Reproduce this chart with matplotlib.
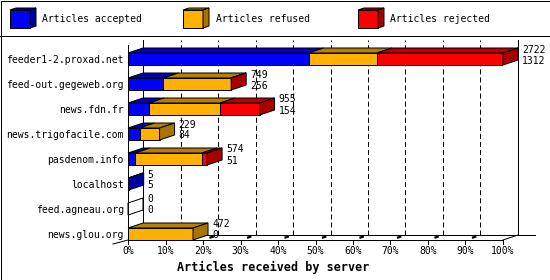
import numpy as np
import matplotlib
matplotlib.use("Agg")
import matplotlib.pyplot as plt
import matplotlib.transforms as mtransforms
from matplotlib.patches import Polygon, Rectangle
from matplotlib.lines import Line2D

# data (articles per server)
hosts = ["feeder1-2.proxad.net", "feed-out.gegeweb.org", "news.fdn.fr",
         "news.trigofacile.com", "pasdenom.info", "localhost",
         "feed.agneau.org", "news.glou.org"]
accepted = [1312, 256, 154, 84, 51, 5, 0, 0]
refused = [495, 490, 515, 145, 486, 0, 0, 472]
rejected = [915, 3, 286, 0, 37, 0, 0, 0]
totals = [2722, 749, 955, 229, 574, 5, 0, 472]

series_names = ["Articles accepted", "Articles refused", "Articles rejected"]
front_colors = ["#0000ff", "#ffb000", "#ff0000"]
top_colors = ["#0000c0", "#b88000", "#c00000"]
side_colors = ["#0000a0", "#a87400", "#a80000"]

DX, DY = 15, 5       # 3d depth in pixels
BAR_H = 0.48
LW = 0.72            # ~1 px

plt.rcParams['font.family'] = ['DejaVu Sans Mono']
plt.rcParams['font.size'] = 7
plt.rcParams['lines.scale_dashes'] = False

fig = plt.figure(figsize=(5.5, 2.8), dpi=100)
ax = fig.add_axes([128 / 550, 40 / 280, 375 / 550, 195 / 280])
max_total = max(totals)
y_bottom = len(hosts) - 1 + 0.24
y_top = -0.56
ax.set_xlim(0, max_total)
ax.set_ylim(y_bottom, y_top)
for s in ax.spines.values():
    s.set_visible(False)
ax.patch.set_visible(False)

ident = mtransforms.IdentityTransform()
back = mtransforms.offset_copy(ax.transData, fig=fig, x=DX, y=DY, units='dots')


def disp(x, y, is_back=False):
    p = ax.transData.transform((x, y))
    if is_back:
        p = p + np.array([DX, DY])
    return p


def poly(pts, fc):
    ax.add_patch(Polygon(pts, closed=True, facecolor=fc, edgecolor='k',
                         linewidth=LW, transform=ident, clip_on=False, zorder=4))


def seg(p0, p1, lw=LW, z=2):
    ax.add_line(Line2D([p0[0], p1[0]], [p0[1], p1[1]], color='k', linewidth=lw,
                       transform=ident, clip_on=False, zorder=z))


# back wall, grid and floor
ticks = np.linspace(0, max_total, 11)
ax.plot([0, 0], [y_bottom, y_top], color='k', lw=LW, transform=back, clip_on=False, zorder=1)
ax.plot([max_total, max_total], [y_bottom, y_top], color='k', lw=LW, transform=back,
        clip_on=False, zorder=1)
ax.vlines(ticks[1:-1], y_bottom, y_top, colors='k', linewidth=LW,
          linestyles=(0, (3.6, 2.2)), transform=back, clip_on=False, zorder=1)
ax.plot([0, max_total * 1.045], [y_bottom, y_bottom], color='k', lw=LW, transform=back,
        clip_on=False, zorder=1)
ax.plot([0, max_total], [y_bottom, y_bottom], color='k', lw=LW, clip_on=False, zorder=2)
ax.plot([0, 0], [y_bottom, y_top], color='k', lw=LW, clip_on=False, zorder=5)
seg(disp(max_total, y_bottom), disp(max_total, y_bottom, True))

# floor tick marks
for t in ticks:
    f = disp(t, y_bottom)
    b = disp(t, y_bottom, True)
    seg(f, f + np.array([0, -4]))
    if 0 < t < max_total:
        seg(f + (b - f) * 0.5, f + (b - f) * 0.65, lw=1.6)
seg(disp(0, y_bottom), disp(0, y_bottom) + np.array([-15, -4]))

# bars
for i in range(len(hosts)):
    vals = [accepted[i], refused[i], rejected[i]]
    left = 0
    last = None
    yt = i - BAR_H / 2
    yb = i + BAR_H / 2
    for k, v in enumerate(vals):
        if v <= 0:
            continue
        ax.barh(i, v, left=left, height=BAR_H, color=front_colors[k],
                edgecolor='k', linewidth=LW, zorder=3)
        poly([disp(left, yt), disp(left + v, yt), disp(left + v, yt, True),
              disp(left, yt, True)], top_colors[k])
        left += v
        last = k
    side = side_colors[last] if last is not None else 'white'
    poly([disp(left, yb), disp(left, yt), disp(left, yt, True), disp(left, yb, True)], side)
    ax.annotate(str(totals[i]), xy=(left, i), xytext=(19, 9.5), textcoords='offset pixels',
                ha='left', va='center')
    ax.annotate(str(accepted[i]), xy=(left, i), xytext=(19, -1.5), textcoords='offset pixels',
                ha='left', va='center')

ax.set_xticks(ticks, [f"{p}%" for p in range(0, 101, 10)])
ax.set_yticks(range(len(hosts)), hosts)
ax.tick_params(axis='x', length=0, pad=4)
ax.tick_params(axis='y', length=0, pad=3)

fig.text(273 / 550, 1 - 267 / 280, "Articles received by server", ha='center', va='center',
         fontweight='bold', fontsize=8.5)

# legend with small cubes
for k, (x0, tx) in enumerate([(10, 42), (183, 216), (358, 390)]):
    yb, yt = 252, 270
    fig.add_artist(Polygon([(x0, yb), (x0 + 20, yb), (x0 + 20, yt), (x0, yt)],
                           facecolor=front_colors[k], edgecolor='k', linewidth=LW, transform=ident))
    fig.add_artist(Polygon([(x0, yt), (x0 + 20, yt), (x0 + 26, yt + 2), (x0 + 6, yt + 2)],
                           facecolor=top_colors[k], edgecolor='k', linewidth=LW, transform=ident))
    fig.add_artist(Polygon([(x0 + 20, yb), (x0 + 20, yt), (x0 + 26, yt + 2), (x0 + 26, yb + 2)],
                           facecolor=side_colors[k], edgecolor='k', linewidth=LW, transform=ident))
    fig.text(tx / 550, 261 / 280, series_names[k], ha='left', va='center')

fig.add_artist(Line2D([0, 550], [244.5, 244.5], color='k', linewidth=LW, transform=ident))
fig.add_artist(Rectangle((0.5, 0.5), 549, 279, fill=False, edgecolor='k', linewidth=LW,
                         transform=ident))

fig.savefig("out.png", dpi=100)
